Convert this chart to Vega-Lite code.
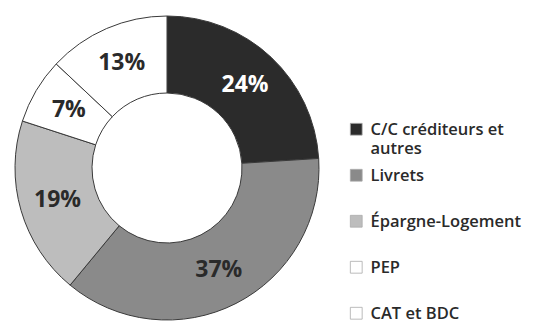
{
  "$schema": "https://vega.github.io/schema/vega-lite/v6.json",
  "autosize": "none",
  "width": 334,
  "height": 308,
  "padding": {"left": 0, "top": 14, "right": 199, "bottom": 0},
  "background": "white",
  "view": {"stroke": null},
  "data": {
    "values": [
      {"cat": "C/C créditeurs et autres", "v": 24, "ord": 1, "lab": "24%"},
      {"cat": "Livrets", "v": 37, "ord": 2, "lab": "37%"},
      {"cat": "Épargne-Logement", "v": 19, "ord": 3, "lab": "19%"},
      {"cat": "PEP", "v": 7, "ord": 4, "lab": "7%"},
      {"cat": "CAT et BDC", "v": 13, "ord": 5, "lab": "13%"}
    ]
  },
  "encoding": {
    "theta": {"field": "v", "type": "quantitative", "stack": true},
    "order": {"field": "ord", "type": "quantitative"}
  },
  "layer": [
    {
      "mark": {"type": "arc", "outerRadius": 152, "innerRadius": 75, "stroke": "#3a3a3a", "strokeWidth": 1},
      "encoding": {
        "color": {
          "field": "cat",
          "type": "nominal",
          "scale": {
            "domain": ["C/C créditeurs et autres", "Livrets", "Épargne-Logement", "PEP", "CAT et BDC"],
            "range": ["#2b2b2b", "#8a8a8a", "#bdbdbd", "#ffffff", "#ffffff"]
          },
          "legend": {
            "title": null,
            "orient": "none",
            "legendX": 348,
            "legendY": 107,
            "padding": 0,
            "symbolType": "square",
            "symbolSize": 140,
            "symbolStrokeColor": "#aaaaaa",
            "symbolStrokeWidth": 0.8,
            "symbolOpacity": 1,
            "labelFont": "Open Sans",
            "labelFontSize": 16.5,
            "labelFontWeight": 600,
            "labelColor": "#2a2a2a",
            "labelOffset": 6,
            "labelLimit": 300,
            "labelBaseline": "alphabetic",
            "gridAlign": "all",
            "rowPadding": 9,
            "labelExpr": "datum.label == 'C/C créditeurs et autres' ? ['C/C créditeurs et', 'autres'] : datum.label",
            "encode": {"labels": {"update": {"dy": {"value": 6}, "lineHeight": {"value": 19}}}}
          }
        }
      }
    },
    {
      "mark": {"type": "text", "radius": 114, "font": "Open Sans", "fontSize": 23, "fontWeight": "bold"},
      "encoding": {
        "text": {"field": "lab"},
        "color": {
          "condition": {"test": "datum.ord == 1", "value": "#ffffff"},
          "value": "#2a2a2a"
        }
      }
    }
  ]
}
